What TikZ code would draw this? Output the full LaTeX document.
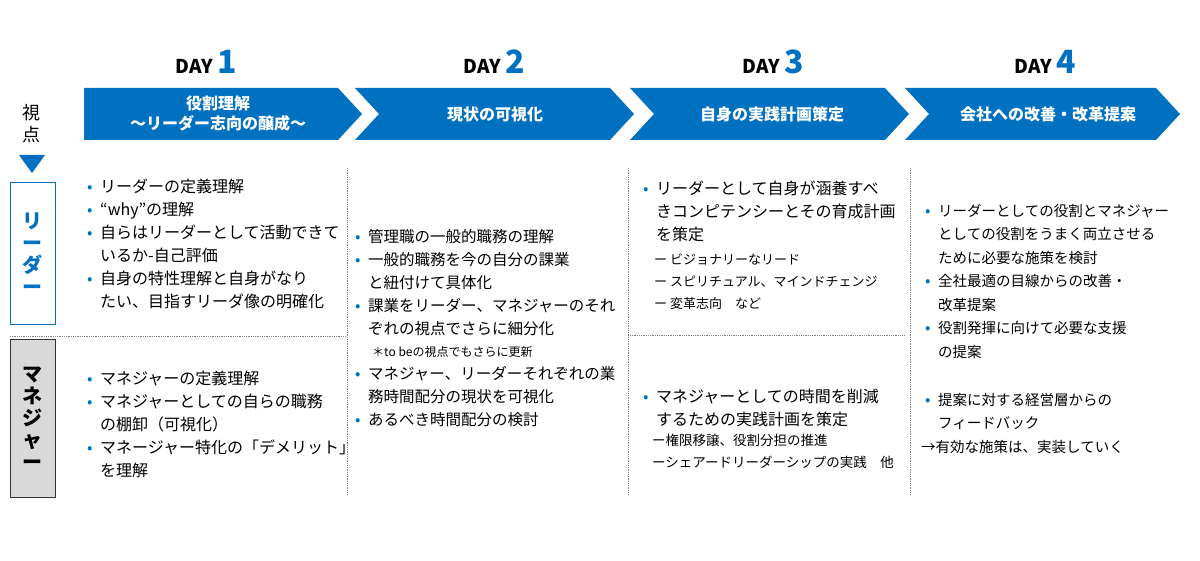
\documentclass[tikz,border=0pt]{standalone}
\usepackage{fontspec}
\setmainfont{Noto Sans CJK JP}
\definecolor{myblue}{RGB}{0,112,192}
\newcommand\bt{\makebox[13pt][l]{\textcolor{myblue}{\fontsize{16}{16}\selectfont•}}}
\newcommand\ct{\hspace*{13pt}}
\begin{document}
\begin{tikzpicture}[x=1pt,y=-1pt,
  chev/.style={fill=myblue,draw=none},
  htext/.style={text=white,font=\bfseries\fontsize{16}{20}\selectfont,align=center},
  day/.style={font=\bfseries\fontsize{19}{22}\selectfont},
  blk/.style={anchor=north west,align=left,inner sep=0pt},
  dotl/.style={gray,densely dotted,line width=0.8pt}]
\useasboundingbox (0,0) rectangle (1200,561);
% chevrons
\fill[myblue] (84,88)--(338,88)--(362,114)--(338,140)--(84,140)--cycle;
\fill[myblue] (355,88)--(610,88)--(634,114)--(610,140)--(355,140)--(379,114)--cycle;
\fill[myblue] (630,88)--(885,88)--(909,114)--(885,140)--(630,140)--(654,114)--cycle;
\fill[myblue] (905,88)--(1156,88)--(1180,114)--(1156,140)--(905,140)--(929,114)--cycle;
\node[htext] (h1) at (218,114) {役割理解\\〜リーダー志向の醸成〜};
\node[htext] (h2) at (495,114) {現状の可視化};
\node[htext] (h3) at (772,114) {自身の実践計画策定};
\node[htext] (h4) at (1048,114) {会社への改善・改革提案};
% days
\foreach \x/\n in {206/1,494/2,773/3,1045/4}{
  \node[day] at (\x,62) {DAY \textcolor{myblue}{\fontsize{32}{32}\selectfont \n}};}
% left column
\node[font=\fontsize{18}{22}\selectfont,align=center] (vp) at (32,124) {視\\点};
\fill[myblue] (19,155)--(45,155)--(32,173)--cycle;
\node[draw=myblue,line width=1pt,minimum width=45pt,minimum height=142pt,inner sep=0pt] (lb) at (32.5,254) {};
\node[text=myblue,font=\bfseries\fontsize{20}{22}\selectfont,align=center] at (lb) {リ\\ー\\ダ\\ー};
\node[draw=black!80,fill=black!15,line width=1pt,minimum width=45pt,minimum height=157pt,inner sep=0pt] (mb) at (32.5,418.5) {};
\node[font=\bfseries\fontsize{20}{22}\selectfont,align=center] at (mb) {マ\\ネ\\ジ\\ャ\\ー};
% dotted lines
\draw[dotl] (10,336)--(345,336);
\draw[dotl] (630,335)--(905,335);
\draw[dotl] (347,168)--(347,495);
\draw[dotl] (628,168)--(628,495);
\draw[dotl] (910,168)--(910,495);
% column 1
\node[blk,font=\fontsize{16}{23}\selectfont] (c1a) at (87,179) {\bt リーダーの定義理解\\\bt “why”の理解\\\bt 自らはリーダーとして活動できて\\\ct いるか-自己評価\\\bt 自身の特性理解と自身がなり\\\ct たい、目指すリーダ像の明確化};
\node[blk,font=\fontsize{16}{23}\selectfont] (c1b) at (87,371) {\bt マネジャーの定義理解\\\bt マネジャーとしての自らの職務\\\ct の棚卸（可視化）\\\bt マネージャー特化の「デメリット」\\\ct を理解};
% column 2
\node[blk,font=\fontsize{15.5}{23}\selectfont] (c2a) at (355,229) {\bt 管理職の一般的職務の理解\\\bt 一般的職務を今の自分の課業\\\ct と紐付けて具体化\\\bt 課業をリーダー、マネジャーのそれ\\\ct ぞれの視点でさらに細分化};
\node[blk,font=\fontsize{12}{14}\selectfont] (c2n) at (372,346) {＊to beの視点でもさらに更新};
\node[blk,font=\fontsize{15.5}{23}\selectfont] (c2b) at (355,366) {\bt マネジャー、リーダーそれぞれの業\\\ct 務時間配分の現状を可視化\\\bt あるべき時間配分の検討};
% column 3
\node[blk,font=\fontsize{16}{23}\selectfont] (c3a) at (643,181) {\bt リーダーとして自身が涵養すべ\\\ct きコンピテンシーとその育成計画\\\ct を策定};
\node[blk,font=\fontsize{13}{22}\selectfont] (c3s) at (654,254) {ー ビジョナリーなリード\\ー スピリチュアル、マインドチェンジ\\ー 変革志向　など};
\node[blk,font=\fontsize{16}{23}\selectfont] (c3b) at (643,389) {\bt マネジャーとしての時間を削減\\\ct するための実践計画を策定};
\node[blk,font=\fontsize{13.5}{22}\selectfont] (c3t) at (652,434) {ー権限移譲、役割分担の推進\\ーシェアードリーダーシップの実践　他};
% column 4
\node[blk,font=\fontsize{14.5}{23.5}\selectfont] (c4a) at (925,204) {\bt リーダーとしての役割とマネジャー\\\ct としての役割をうまく両立させる\\\ct ために必要な施策を検討\\\bt 全社最適の目線からの改善・\\\ct 改革提案\\\bt 役割発揮に向けて必要な支援\\\ct の提案};
\node[blk,font=\fontsize{14.5}{23.5}\selectfont] (c4b) at (925,393) {\bt 提案に対する経営層からの\\\ct フィードバック};
\node[blk,font=\fontsize{14.5}{23.5}\selectfont] (c4c) at (921,440) {→有効な施策は、実装していく};
\end{tikzpicture}
\end{document}
